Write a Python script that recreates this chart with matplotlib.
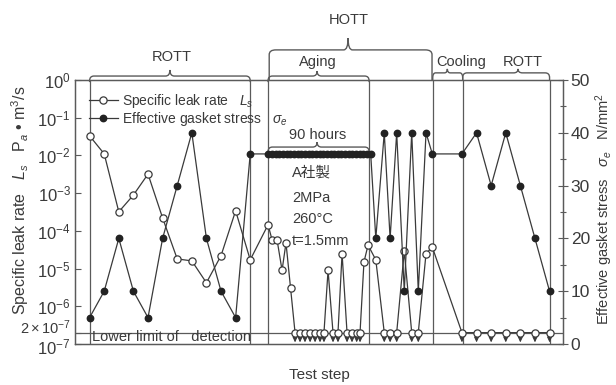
import matplotlib
matplotlib.use("Agg")
import matplotlib.pyplot as plt
import matplotlib.transforms as mtransforms
from matplotlib.path import Path
from matplotlib.patches import PathPatch
from matplotlib.ticker import MultipleLocator, NullLocator

plt.rcParams['font.family'] = ['Liberation Sans', 'Noto Sans CJK JP', 'DejaVu Sans']
plt.rcParams['mathtext.fontset'] = 'custom'
plt.rcParams['mathtext.rm'] = 'Liberation Sans'
plt.rcParams['mathtext.it'] = 'Liberation Sans:italic'
plt.rcParams['mathtext.bf'] = 'Liberation Sans:bold'

DET = 2e-7  # lower limit of detection (Pa m3/s)

# ROTT (room temperature tightness test)
rott1_steps = [1, 2, 3, 4, 5, 6, 7, 8, 9, 10, 11, 12]
rott1_leak = [3.3e-2, 1.1e-2, 3.2e-4, 8.9e-4, 3.2e-3, 2.2e-4,
              1.8e-5, 1.6e-5, 4.2e-6, 2.2e-5, 3.4e-4, 1.7e-5]
rott1_stress = [5, 10, 20, 10, 5, 20, 30, 40, 20, 10, 5, 36]

# HOTT aging, 90 hours
aging_leak_steps = [13.22, 13.5, 13.84, 14.18, 14.45, 14.76, 15.07, 15.41,
                    15.75, 16.1, 16.44, 16.78, 17.05, 17.33, 17.67, 18.01,
                    18.29, 18.63, 18.97, 19.29, 19.52, 19.79, 20.07]
aging_leak = [1.45e-4, 5.7e-5, 5.7e-5, 9e-6, 4.8e-5, 3.1e-6, DET, DET,
              DET, DET, DET, DET, DET, 9e-6, DET, DET,
              2.5e-5, DET, DET, DET, DET, 1.5e-5, 4.2e-5]
aging_stress_steps = [13.25, 13.5, 13.75, 14.0, 14.25, 14.5, 14.75, 15.0,
                      15.25, 15.5, 15.75, 16.0, 16.25, 16.5, 16.75, 17.0,
                      17.25, 17.5, 17.75, 18.0, 18.25, 18.5, 18.75, 19.0,
                      19.25, 19.5, 19.75, 20.0, 20.25]
aging_stress = [36, 36, 36, 36, 36, 36, 36, 36, 36, 36, 36, 36, 36, 36, 36,
                36, 36, 36, 36, 36, 36, 36, 36, 36, 36, 36, 36, 36, 36]

# HOTT thermal cycles
hott_steps = [20.6, 21.18, 21.58, 22.03, 22.55, 23.06, 23.51, 24.04, 24.47]
hott_leak = [1.7e-5, DET, DET, DET, 2.9e-5, DET, DET, 2.5e-5, 3.7e-5]
hott_stress = [20, 40, 20, 40, 10, 40, 10, 40, 36]

# cooling and second ROTT
cool_rott_steps = [26.5, 27.5, 28.5, 29.5, 30.5, 31.5, 32.5]
cool_rott_leak = [DET, DET, DET, DET, DET, DET, DET]
cool_rott_stress = [36, 40, 30, 40, 30, 20, 10]

section_lines = [1, 12, 13.22, 20.14, 24.5, 26.55, 32.5]

leak_ticks = [1e-7, 1e-6, 1e-5, 1e-4, 1e-3, 1e-2, 1e-1, 1e0, DET]
leak_ticklabels = ['$10^{-7}$', '$10^{-6}$', '$10^{-5}$', '$10^{-4}$', '$10^{-3}$',
                   '$10^{-2}$', '$10^{-1}$', '$10^{0}$', r'$2\times10^{-7}$']
stress_ticks = [0, 10, 20, 30, 40, 50]

leak_steps = rott1_steps + aging_leak_steps + hott_steps + cool_rott_steps
leak = rott1_leak + aging_leak + hott_leak + cool_rott_leak
stress_steps = rott1_steps + aging_stress_steps + hott_steps + cool_rott_steps
stress = rott1_stress + aging_stress + hott_stress + cool_rott_stress

ink = '#3a3a3a'
frame = '#5a5a5a'


def brace(ax, x0, x1, xt, y_line, y_leg, y_tip, rx=0.3, tx=0.3):
    # curly brace, x in data units, y in axes fraction
    ry = min(0.018, abs(y_line - y_leg))
    s = 1 if y_line > y_leg else -1
    verts = [(x0, y_leg), (x0, y_line - s * ry),
             (x0, y_line), (x0 + rx, y_line),
             (xt - tx, y_line),
             (xt, y_line), (xt, y_tip),
             (xt, y_line), (xt + tx, y_line),
             (x1 - rx, y_line),
             (x1, y_line), (x1, y_line - s * ry),
             (x1, y_leg)]
    codes = [Path.MOVETO, Path.LINETO,
             Path.CURVE3, Path.CURVE3,
             Path.LINETO,
             Path.CURVE3, Path.CURVE3,
             Path.CURVE3, Path.CURVE3,
             Path.LINETO,
             Path.CURVE3, Path.CURVE3,
             Path.LINETO]
    trans = mtransforms.blended_transform_factory(ax.transData, ax.transAxes)
    ax.add_patch(PathPatch(Path(verts, codes), fc='none', ec=frame, lw=1.0,
                           transform=trans, clip_on=False))


fig = plt.figure(figsize=(6.16, 3.85), dpi=100)
ax = fig.add_axes([75 / 616, 41 / 385, 488 / 616, 264 / 385])
ax.set_yscale('log')
ax.set_ylim(1e-7, 1)
ax.set_xlim(0, 33.42)
ax2 = ax.twinx()
ax2.set_ylim(0, 50)

for x in section_lines:
    ax.axvline(x, color=frame, lw=0.9, zorder=1)
ax.axhline(DET, color=frame, lw=0.9, zorder=1)

l1, = ax.plot(leak_steps, leak, color=ink, lw=0.9, marker='o', ms=5.2,
              mfc='white', mec=ink, mew=0.9, zorder=3)
l2, = ax2.plot(stress_steps, stress, color=ink, lw=0.9, marker='o', ms=4.6,
               mfc='#222222', mec='#222222', zorder=3)

# arrows below the points at the detection limit
for x, v in zip(leak_steps, leak):
    if v == DET:
        ax.annotate('', xy=(x, 1.1e-7), xytext=(x, DET), zorder=2,
                    arrowprops=dict(arrowstyle='-|>,head_length=0.3,head_width=0.14',
                                    color=ink, lw=0.8, shrinkA=2.5, shrinkB=0,
                                    mutation_scale=10))

ax.set_yticks(leak_ticks)
ax.set_yticklabels(leak_ticklabels)
ax.yaxis.set_minor_locator(NullLocator())
ax.tick_params(axis='y', direction='in', length=4, width=0.8, color=frame,
               labelcolor=ink, labelsize=12, pad=3)
labs = ax.get_yticklabels()
labs[-1].set_fontsize(10.5)
labs[-1].set_transform(labs[-1].get_transform() +
                       mtransforms.ScaledTranslation(0, 5 / 72, fig.dpi_scale_trans))
labs[0].set_transform(labs[0].get_transform() +
                      mtransforms.ScaledTranslation(0, -1.5 / 72, fig.dpi_scale_trans))
ax.set_xticks([])

ax2.set_yticks(stress_ticks)
ax2.yaxis.set_minor_locator(MultipleLocator(5))
ax2.tick_params(axis='y', which='major', direction='inout', length=7, width=0.8,
                color=frame, labelcolor=ink, labelsize=12.5, pad=2)
ax2.tick_params(axis='y', which='minor', direction='inout', length=4, width=0.8,
                color=frame)

for a in (ax, ax2):
    for sp in a.spines.values():
        sp.set_color(frame)
        sp.set_linewidth(0.9)

ax.set_ylabel('Specific leak rate   $L_s$   P$_a$ • m$^3$/s', fontsize=11.5, color=ink)
ax.yaxis.set_label_coords(-0.09, 0.545)
ax2.set_ylabel('Effective gasket stress   $\\sigma_e$   N/mm$^2$', fontsize=10.5, color=ink)
ax2.yaxis.set_label_coords(1.062, 0.511)
ax.set_xlabel('Test step', fontsize=11, color=ink, va='top')
ax.xaxis.set_label_coords(0.5, -0.091)

ax2.legend([l1, l2], ['Specific leak rate   $L_s$', 'Effective gasket stress   $\\sigma_e$'],
           loc='upper left', bbox_to_anchor=(0.028, 0.955), frameon=False,
           fontsize=10, labelcolor=ink, handlelength=2.1, handletextpad=0.3,
           labelspacing=0.0, borderpad=0, borderaxespad=0, handleheight=0.5)

tr = mtransforms.blended_transform_factory(ax.transData, ax.transAxes)
txt = dict(transform=tr, color=ink, fontsize=10.5, clip_on=False)
ax2.text(14.86, 0.648, 'A社製', ha='left', va='center', **txt)
ax2.text(14.86, 0.553, '2MPa', ha='left', va='center', **txt)
ax2.text(14.86, 0.473, '260°C', ha='left', va='center', **txt)
ax2.text(14.86, 0.390, 't=1.5mm', ha='left', va='center', **txt)
ax2.text(16.64, 0.792, '90 hours', ha='center', va='center', **txt)
ax2.text(1.16, 0.027, 'Lower limit of   detection', ha='left', va='center', **txt)

ax2.text(6.64, 1.087, 'ROTT', ha='center', va='center', **txt)
ax2.text(18.77, 1.227, 'HOTT', ha='center', va='center', **txt)
ax2.text(16.64, 1.068, 'Aging', ha='center', va='center', **txt)
ax2.text(26.44, 1.068, 'Cooling', ha='center', va='center', **txt)
ax2.text(30.68, 1.068, 'ROTT', ha='center', va='center', **txt)

brace(ax2, 1, 12, 6.5, 1.015, 0.992, 1.038)
brace(ax2, 13.22, 20.14, 16.58, 1.015, 0.992, 1.034)
brace(ax2, 13.3, 24.45, 18.7, 1.114, 1.0, 1.159, rx=0.45)
brace(ax2, 24.5, 26.55, 25.5, 1.027, 1.0, 1.042, rx=0.2, tx=0.2)
brace(ax2, 26.55, 32.5, 30.34, 1.027, 1.0, 1.042)
brace(ax2, 13.22, 20.14, 16.58, 0.746, 0.727, 0.765)

fig.savefig('out.png', dpi=100)
plt.close()
